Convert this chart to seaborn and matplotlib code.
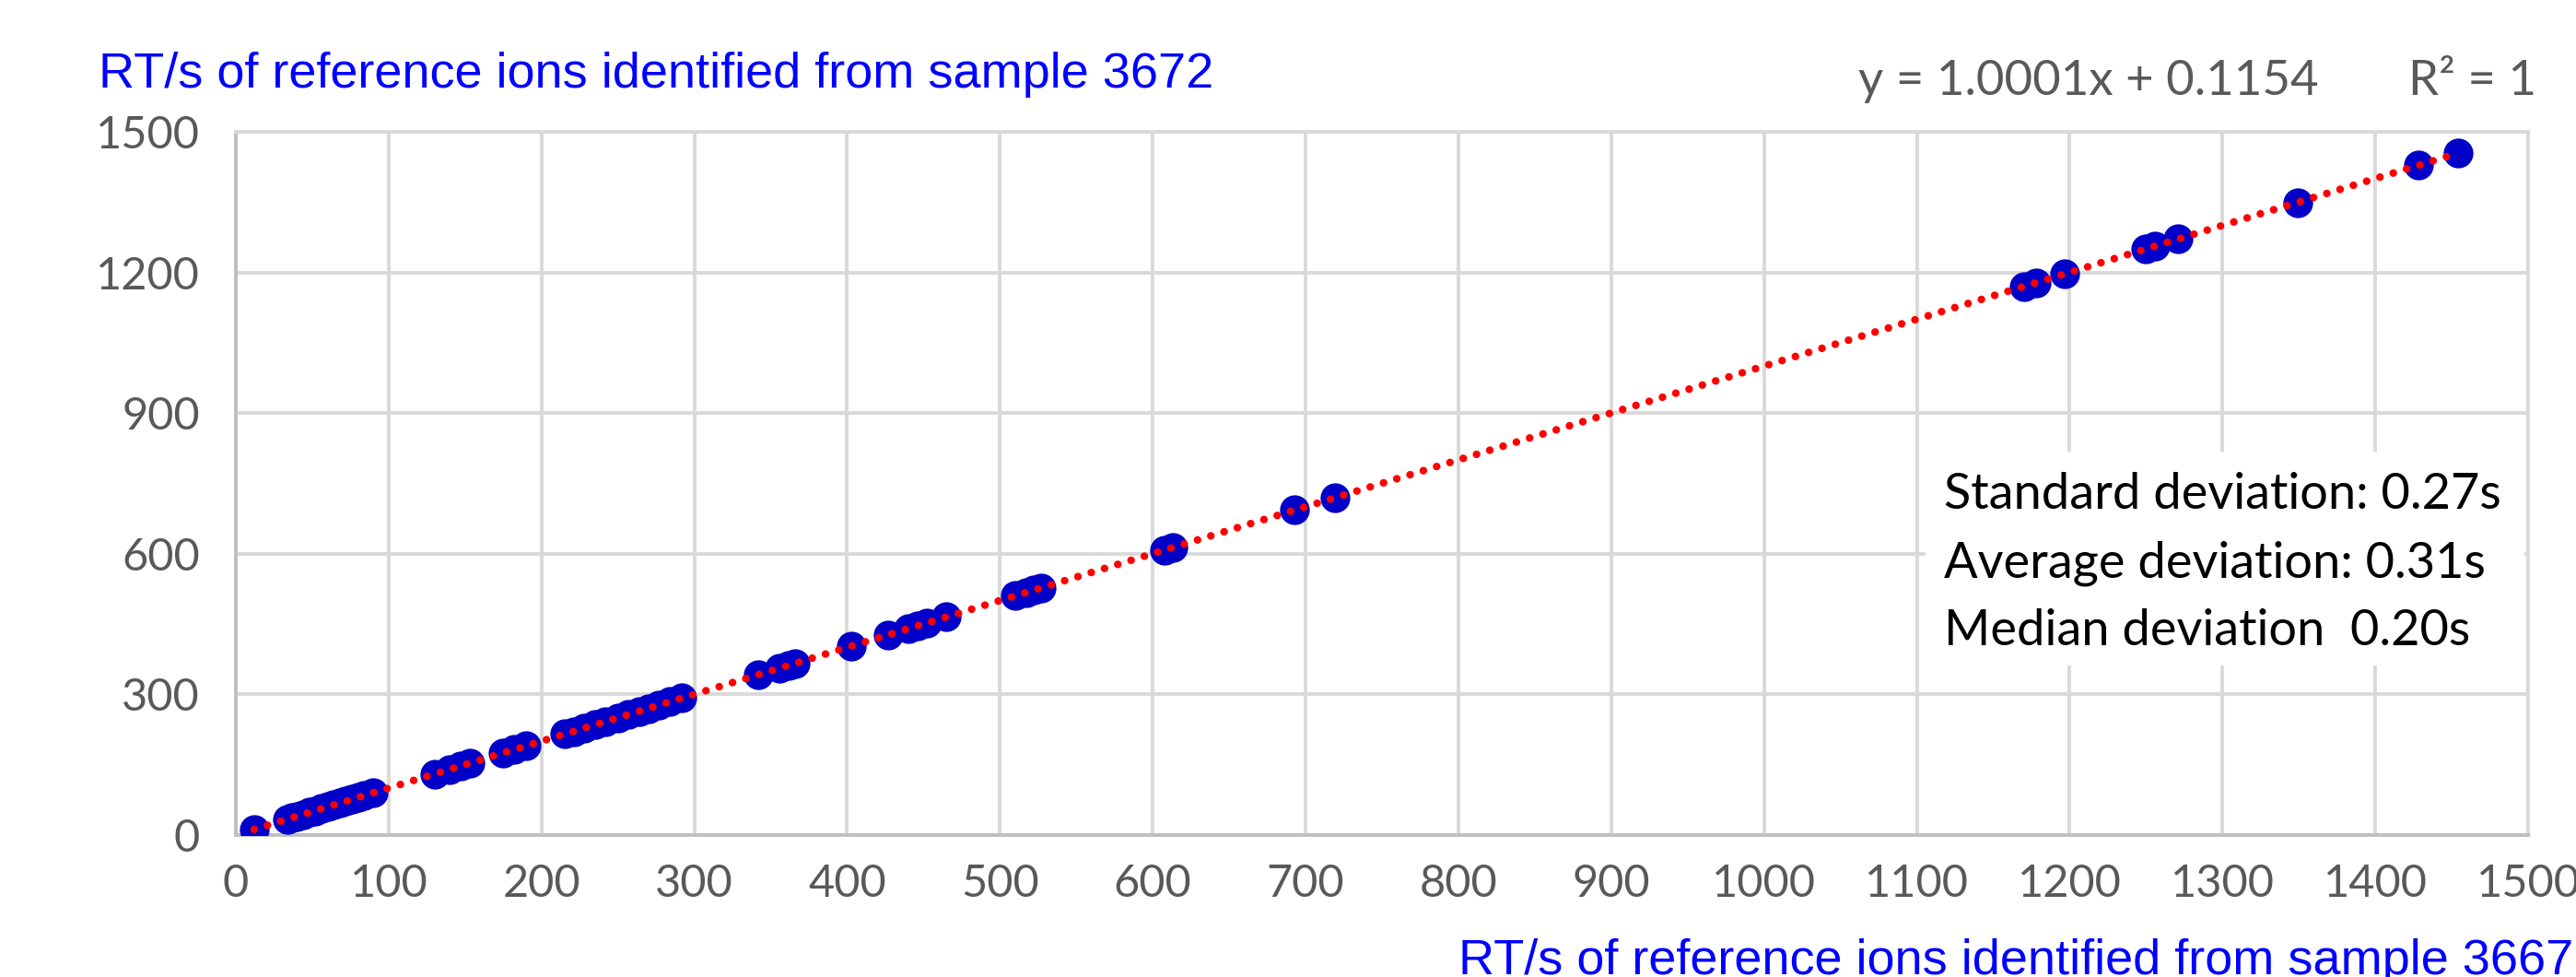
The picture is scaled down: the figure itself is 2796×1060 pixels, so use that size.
import numpy as np
import pandas as pd
import matplotlib
matplotlib.use("Agg")
import matplotlib.pyplot as plt
from matplotlib.patches import Rectangle
import seaborn as sns

# RT (s) of reference ions: sample 3667 (x) vs sample 3672 (y)
rt_3667 = [12, 34, 37, 40, 44, 48, 52, 56, 60, 64, 68, 72, 76, 80, 84, 90,
           130, 140, 147, 153,
           175, 182, 190,
           215, 221, 228, 235, 242, 250, 257, 264, 270, 277, 284, 292,
           342, 356, 362, 366,
           403,
           427, 440, 446, 452, 465,
           510, 517, 522, 527,
           608, 613,
           693, 719,
           1170, 1178, 1197, 1250, 1256, 1271, 1349, 1428, 1454]
rt_3672 = [12.4, 34.0, 37.3, 40.1, 44.2, 48.5, 51.8, 56.3, 60.1, 64.4, 68.2, 71.9, 76.3, 80.2, 84.4, 90.1,
           130.3, 139.8, 147.2, 153.4,
           175.1, 182.5, 190.2,
           215.3, 221.0, 228.4, 235.2, 241.9, 250.3, 257.4, 264.1, 270.2, 277.6, 284.1, 292.3,
           342.2, 356.4, 361.8, 366.3,
           403.2,
           427.5, 440.1, 446.3, 452.2, 465.4,
           510.3, 517.0, 522.4, 527.2,
           608.3, 613.1,
           693.4, 719.2,
           1170.1, 1178.5, 1197.2, 1250.3, 1256.1, 1271.4, 1349.2, 1428.3, 1454.1]

x_ticks = list(range(0, 1501, 100))
y_ticks = list(range(0, 1501, 300))

equation_text = "y = 1.0001x + 0.1154"
r2_text = "R\u00b2 = 1"
stats_lines = ["Standard deviation: 0.27s",
               "Average deviation: 0.31s",
               "Median deviation  0.20s"]
y_title = "RT/s of reference ions identified from sample 3672"
x_title = "RT/s of reference ions identified from sample 3667"

df = pd.DataFrame({"x": rt_3667, "y": rt_3672})

sns.set_theme(style="whitegrid")
plt.rcParams["font.family"] = ["Lato", "DejaVu Sans"]

W, H = 2796, 1060
fig = plt.figure(figsize=(W / 100, H / 100), dpi=100)
ax = fig.add_axes([256 / W, 1 - 906 / H, (2744 - 256) / W, (906 - 143) / H])

grid_c = "#D9D9D9"
ax.grid(True, color=grid_c, linewidth=2.8)
ax.set_axisbelow(True)

# data points
sns.scatterplot(data=df, x="x", y="y", ax=ax, s=540, color="#0000C8",
                edgecolor="#0000C8", linewidth=0, zorder=3, legend=False)
# linear trendline, dotted red like Excel
sns.regplot(data=df, x="x", y="y", ax=ax, scatter=False, ci=None, truncate=True,
            line_kws=dict(color="#FF0000", linewidth=6, linestyle=(0, (0.01, 1.8)),
                          dash_capstyle="round", zorder=4))

ax.set_xlim(0, 1500)
ax.set_ylim(0, 1500)
ax.set_xticks(x_ticks)
ax.set_yticks(y_ticks)
ax.set_xlabel("")
ax.set_ylabel("")
ax.tick_params(axis="both", length=0, labelsize=35, labelcolor="#595959")
ax.tick_params(axis="x", pad=22)
ax.tick_params(axis="y", pad=28)

for side in ["left", "bottom"]:
    ax.spines[side].set_color("#BFBFBF")
    ax.spines[side].set_linewidth(2.8)
for side in ["top", "right"]:
    ax.spines[side].set_color(grid_c)
    ax.spines[side].set_linewidth(2.8)

# axis titles in blue
fig.text(107 / W, 1 - 95 / H, y_title, color="#0000FF", fontsize=39,
         family=["Liberation Sans", "DejaVu Sans"], ha="left", va="baseline")
fig.text(1583 / W, 1 - 1057 / H, x_title, color="#0000FF", fontsize=39,
         family=["Liberation Sans", "DejaVu Sans"], ha="left", va="baseline")

# trendline label
fig.text(2017 / W, 1 - 103 / H, equation_text, color="#595959", fontsize=38,
         ha="left", va="baseline")
fig.text(2614 / W, 1 - 103 / H, r2_text, color="#595959", fontsize=38,
         ha="left", va="baseline")

# stats box
fig.patches.append(Rectangle((2090 / W, 1 - 722 / H), (2740 - 2090) / W, (722 - 490) / H,
                             transform=fig.transFigure, facecolor="white",
                             edgecolor="none", zorder=5))
for i, line in enumerate(stats_lines):
    fig.text(2110 / W, 1 - (552 + i * 74) / H, line, color="black", fontsize=39,
             ha="left", va="baseline", zorder=6)

fig.savefig("out.png", dpi=100)
